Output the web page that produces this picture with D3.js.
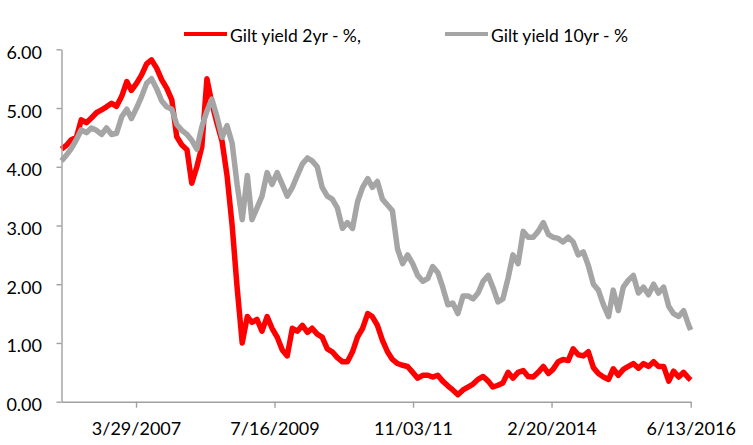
<!DOCTYPE html>
<html>
<head>
<meta charset="utf-8">
<script src="https://cdn.jsdelivr.net/npm/d3@7"></script>
<style>
    body { margin: 0; background: #fff; }
    svg text { font-family: Lato, "Open Sans", sans-serif; fill: #000; }
</style>
</head>
<body>
<div id="chart"></div>
<script>
'use strict';

// monthly readings, Jan 2006 .. Jun 2016, plus the last day
const firstMonth = new Date(2006, 0, 1);
const lastDay = new Date(2016, 5, 13);

const gilt2yr = [
    4.30, 4.37, 4.46, 4.50, 4.80, 4.75, 4.83, 4.92, 4.97, 5.02, 5.08, 5.03,
    5.20, 5.45, 5.30, 5.42, 5.56, 5.75, 5.82, 5.68, 5.48, 5.34, 5.14, 4.51,
    4.37, 4.29, 3.72, 4.00, 4.34, 5.50, 5.08, 4.74, 4.43, 3.85, 3.00, 1.95,
    1.00, 1.45, 1.35, 1.40, 1.20, 1.45, 1.25, 1.10, 0.88, 0.78, 1.25, 1.20,
    1.30, 1.18, 1.25, 1.15, 1.10, 0.90, 0.85, 0.75, 0.68, 0.68, 0.85, 1.10,
    1.25, 1.50, 1.45, 1.30, 1.05, 0.85, 0.72, 0.65, 0.62, 0.60, 0.50, 0.40,
    0.45, 0.45, 0.42, 0.45, 0.35, 0.27, 0.20, 0.12, 0.20, 0.25, 0.30, 0.38,
    0.43, 0.35, 0.25, 0.28, 0.32, 0.50, 0.40, 0.50, 0.53, 0.43, 0.42, 0.50,
    0.60, 0.48, 0.55, 0.68, 0.72, 0.70, 0.90, 0.80, 0.78, 0.85, 0.58, 0.48,
    0.42, 0.38, 0.56, 0.45, 0.55, 0.60, 0.65, 0.57, 0.65, 0.60, 0.68, 0.60,
    0.60, 0.35, 0.52, 0.42, 0.50, 0.40, 0.37
];

const gilt10yr = [
    4.10, 4.20, 4.31, 4.46, 4.63, 4.58, 4.66, 4.62, 4.55, 4.66, 4.55, 4.57,
    4.85, 4.98, 4.82, 5.00, 5.19, 5.42, 5.50, 5.33, 5.12, 5.02, 4.98, 4.72,
    4.62, 4.55, 4.45, 4.30, 4.68, 4.95, 5.15, 4.85, 4.50, 4.70, 4.40, 3.70,
    3.10, 3.85, 3.10, 3.30, 3.50, 3.90, 3.70, 3.90, 3.70, 3.50, 3.65, 3.85,
    4.05, 4.15, 4.10, 4.00, 3.65, 3.50, 3.45, 3.30, 2.95, 3.05, 2.95, 3.40,
    3.65, 3.80, 3.65, 3.75, 3.45, 3.35, 3.25, 2.60, 2.35, 2.50, 2.35, 2.15,
    2.05, 2.10, 2.30, 2.20, 1.95, 1.65, 1.68, 1.50, 1.80, 1.80, 1.75, 1.85,
    2.05, 2.15, 1.95, 1.70, 1.75, 2.10, 2.50, 2.35, 2.90, 2.80, 2.80, 2.90,
    3.05, 2.85, 2.80, 2.78, 2.72, 2.80, 2.72, 2.50, 2.55, 2.32, 2.00, 1.90,
    1.65, 1.45, 1.90, 1.55, 1.95, 2.07, 2.15, 1.85, 1.95, 1.82, 2.00, 1.85,
    1.95, 1.62, 1.50, 1.45, 1.55, 1.30, 1.22
];

const tickDates = ['2007-03-29', '2009-07-16', '2011-11-03', '2014-02-20', '2016-06-13'];
const tickLabels = ['3/29/2007', '7/16/2009', '11/03/11', '2/20/2014', '6/13/2016'];
const yTicks = [0, 1, 2, 3, 4, 5, 6];

const seriesNames = ['Gilt yield 2yr - %,', 'Gilt yield 10yr - %'];
const seriesColors = ['#ff0000', '#a5a5a5'];

const width = 753, height = 445;
const plot = {left: 61.5, right: 690.7, top: 49.3, bottom: 401.7};

const dates = d3.timeMonth.range(firstMonth, lastDay).concat([lastDay]);

const svg = d3.select('#chart')
    .append('svg')
    .attr('width', width)
    .attr('height', height);

const x = d3.scaleTime()
    .domain([firstMonth, lastDay])
    .range([plot.left, plot.right]);

const y = d3.scaleLinear()
    .domain([0, 6])
    .range([plot.bottom, plot.top]);

const line = d3.line()
    .x((d, i) => x(dates[i]))
    .y(d => y(d));

// red first, grey drawn over it like the original
[gilt2yr, gilt10yr].forEach(function(values, k) {
    svg.append('path')
        .datum(values)
        .attr('d', line)
        .style('fill', 'none')
        .style('stroke', seriesColors[k])
        .style('stroke-width', 5.5)
        .style('stroke-linejoin', 'round');
});

const yAxis = svg.append('g')
    .attr('transform', `translate(${plot.left},0)`)
    .call(d3.axisLeft(y)
        .tickValues(yTicks)
        .tickFormat(d3.format('.2f'))
        .tickSize(5)
        .tickSizeOuter(0)
        .tickPadding(14.5));

const xAxis = svg.append('g')
    .attr('transform', `translate(0,${plot.bottom})`)
    .call(d3.axisBottom(x)
        .tickValues(tickDates.map(d => d3.timeParse('%Y-%m-%d')(d)))
        .tickFormat((d, i) => tickLabels[i])
        .tickSize(6)
        .tickSizeOuter(0)
        .tickPadding(15));

[yAxis, xAxis].forEach(function(axis) {
    axis.selectAll('path, line')
        .style('stroke', '#a0a0a0')
        .style('stroke-width', 1.4);
    axis.selectAll('text')
        .style('font-size', '18px')
        .style('font-family', 'Lato, "Open Sans", sans-serif')
        .style('fill', '#000');
});
yAxis.selectAll('text').attr('dy', '0.5em');

// legend
const legendX = [184, 445];
const legend = svg.selectAll('g.legend')
    .data(seriesNames)
    .enter()
    .append('g')
        .attr('class', 'legend')
        .attr('transform', (d, i) => `translate(${legendX[i]},34)`);

legend.append('line')
    .attr('x1', 0)
    .attr('x2', 43)
    .style('stroke', (d, i) => seriesColors[i])
    .style('stroke-width', 4);

legend.append('text')
    .attr('x', 46)
    .attr('y', 8.3)
    .style('font-size', '17.5px')
    .text(d => d);
</script>
</body>
</html>
